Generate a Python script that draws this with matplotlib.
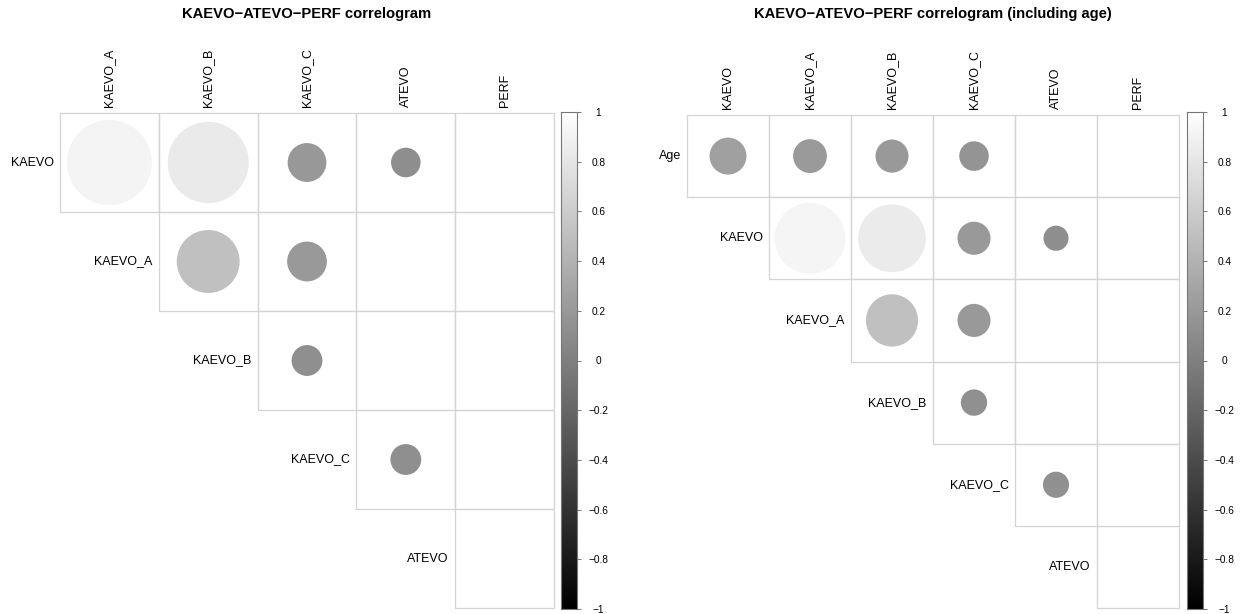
import numpy as np
import matplotlib
matplotlib.use("Agg")
import matplotlib.pyplot as plt
from matplotlib.patches import Circle, Rectangle
from matplotlib.colors import Normalize

# --- Data ---
NA = np.nan

LEFT_TITLE = "KAEVO\u2212ATEVO\u2212PERF correlogram"
LEFT_ROWS = ["KAEVO", "KAEVO_A", "KAEVO_B", "KAEVO_C", "ATEVO"]
LEFT_COLS = ["KAEVO_A", "KAEVO_B", "KAEVO_C", "ATEVO", "PERF"]
# upper triangle, row by row (blank cells = NA)
left_kaevo = [0.91, 0.83, 0.19, 0.11, NA]
left_kaevo_a = [0.50, 0.20, NA, NA]
left_kaevo_b = [0.12, NA, NA]
left_kaevo_c = [0.12, NA]
left_atevo = [NA]

RIGHT_TITLE = "KAEVO\u2212ATEVO\u2212PERF correlogram (including age)"
RIGHT_ROWS = ["Age", "KAEVO", "KAEVO_A", "KAEVO_B", "KAEVO_C", "ATEVO"]
RIGHT_COLS = ["KAEVO", "KAEVO_A", "KAEVO_B", "KAEVO_C", "ATEVO", "PERF"]
right_age = [0.25, 0.21, 0.20, 0.16, NA, NA]
right_kaevo = [0.92, 0.84, 0.20, 0.115, NA]
right_kaevo_a = [0.50, 0.20, NA, NA]
right_kaevo_b = [0.127, NA, NA]
right_kaevo_c = [0.125, NA]
right_atevo = [NA]

CBAR_TICKS = [1, 0.8, 0.6, 0.4, 0.2, 0, -0.2, -0.4, -0.6, -0.8, -1]

# --- Figure layout (pixels) ---
W, H, DPI = 1241, 614, 100
GRID_COL = "#d4d4d4"
FONT = ["Liberation Sans", "DejaVu Sans"]
plt.rcParams["font.family"] = FONT

norm = Normalize(-1, 1)
cmap = plt.get_cmap("gray")


def px_axes(fig, x0, y0, x1, y1):
    # axes from pixel box (top-left origin)
    return fig.add_axes([x0 / W, 1 - y1 / H, (x1 - x0) / W, (y1 - y0) / H])


def fmt_tick(v):
    s = "%g" % v
    return s.replace("-", "\u2212")


def draw_corrplot(fig, box, cbar_box, rows, cols, values, title):
    ax = px_axes(fig, *box)
    n = len(rows)
    ax.set_xlim(0, len(cols))
    ax.set_ylim(n, 0)
    ax.axis("off")

    for i, row_vals in enumerate(values):
        for k, r in enumerate(row_vals):
            j = i + k
            ax.add_patch(Rectangle((j, i), 1, 1, fill=False, edgecolor=GRID_COL,
                                   linewidth=0.9, clip_on=False))
            if not np.isnan(r):
                rad = 0.45 * np.sqrt(abs(r))
                ax.add_patch(Circle((j + 0.5, i + 0.5), rad, facecolor=cmap(norm(r)),
                                    edgecolor="none", clip_on=False))
        # row label, to the left of the first cell
        ax.annotate(rows[i], (i, i + 0.5), xytext=(-4.5, 0), textcoords="offset points",
                    ha="right", va="center", fontsize=9, color="black")

    for j, name in enumerate(cols):
        ax.annotate(name, (j + 0.5, 0), xytext=(0, 4.5), textcoords="offset points",
                    rotation=90, ha="center", va="bottom", fontsize=9, color="black")

    cx = (box[0] + box[2]) / 2 / W
    fig.text(cx, 1 - 14 / H, title, ha="center", va="center", fontsize=10.6,
             fontweight="bold")

    # --- colour legend ---
    cax = px_axes(fig, *cbar_box)
    grad = np.linspace(-1, 1, 256).reshape(-1, 1)
    cax.imshow(grad, cmap=cmap, norm=norm, aspect="auto", origin="lower",
               extent=(0, 1, -1, 1))
    cax.set_xticks([])
    cax.yaxis.tick_right()
    cax.set_yticks(CBAR_TICKS)
    cax.set_yticklabels([fmt_tick(v) for v in CBAR_TICKS])
    cax.tick_params(axis="y", length=3, width=0.7, color="#777777", pad=12.5,
                    labelsize=7.3, labelcolor="black")
    for lab in cax.get_yticklabels():
        lab.set_horizontalalignment("center")
    for sp in cax.spines.values():
        sp.set_color("#777777")
        sp.set_linewidth(0.8)


fig = plt.figure(figsize=(W / DPI, H / DPI), dpi=DPI)

left_vals = [left_kaevo, left_kaevo_a, left_kaevo_b, left_kaevo_c, left_atevo]
right_vals = [right_age, right_kaevo, right_kaevo_a, right_kaevo_b, right_kaevo_c, right_atevo]

draw_corrplot(fig, (60, 113, 554, 608), (561, 112, 577, 609),
              LEFT_ROWS, LEFT_COLS, left_vals, LEFT_TITLE)
draw_corrplot(fig, (687, 115, 1179, 608), (1187, 112, 1203, 609),
              RIGHT_ROWS, RIGHT_COLS, right_vals, RIGHT_TITLE)

fig.savefig("out.png", dpi=DPI)
